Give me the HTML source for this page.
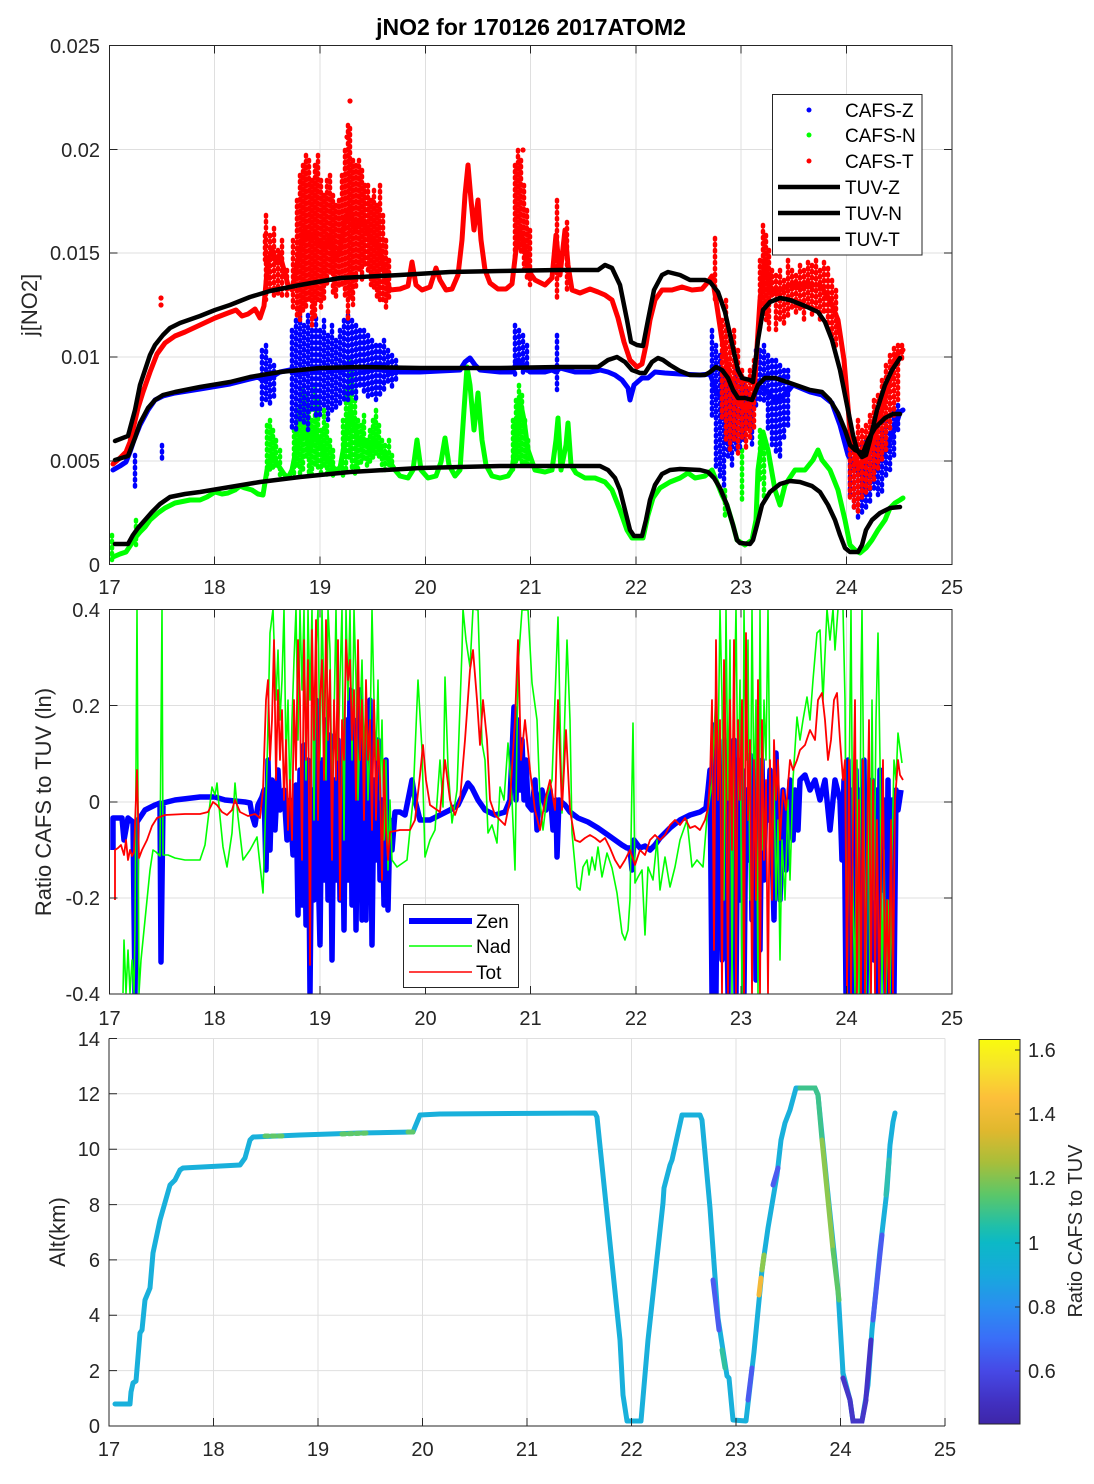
<!DOCTYPE html>
<html><head><meta charset="utf-8"><style>
html,body{margin:0;padding:0;background:#fff;}
svg{display:block;font-family:"Liberation Sans",Arial,sans-serif;}
</style></head><body>
<svg width="1094" height="1484" viewBox="0 0 1094 1484" xmlns="http://www.w3.org/2000/svg">
<defs>
<clipPath id="c1"><rect x="109.5" y="45.5" width="842.5" height="519"/></clipPath>
<clipPath id="c2"><rect x="109.5" y="609.5" width="842.5" height="385"/></clipPath>
<linearGradient id="par" x1="0" y1="0" x2="0" y2="1">
<stop offset="0" stop-color="#f9fb0e"/><stop offset="0.07" stop-color="#f6e42a"/>
<stop offset="0.153" stop-color="#fcbf3a"/><stop offset="0.237" stop-color="#e0b82e"/>
<stop offset="0.32" stop-color="#a8be3a"/><stop offset="0.403" stop-color="#5cc768"/>
<stop offset="0.487" stop-color="#1fbfaa"/><stop offset="0.528" stop-color="#0cb9c6"/>
<stop offset="0.612" stop-color="#17a9dc"/><stop offset="0.695" stop-color="#2a8ef0"/>
<stop offset="0.778" stop-color="#3a6ef8"/><stop offset="0.862" stop-color="#4649e6"/>
<stop offset="0.945" stop-color="#4130c0"/><stop offset="1" stop-color="#3e26a8"/>
</linearGradient>
</defs>
<rect width="1094" height="1484" fill="#fff"/>

<!-- ================= PANEL 1 ================= -->
<g stroke="#dfdfdf" stroke-width="1" fill="none">
<path d="M214.5 45.5V564.5M320 45.5V564.5M425.5 45.5V564.5M530.5 45.5V564.5M636 45.5V564.5M741 45.5V564.5M846.5 45.5V564.5"/>
<path d="M109.5 149.5H952M109.5 253H952M109.5 357H952M109.5 461H952"/>
</g>
<g clip-path="url(#c1)" fill="none" stroke-linecap="round" stroke-linejoin="round">
<!-- green CAFS-N -->
<polyline stroke="#00ff00" stroke-width="5" points="113,557 120,554 126,552 130,546 135,538 140,532 145,527 150,520 158,513 165,508 175,503 190,500 200,500 207,497 215,492 222,494 228,493 235,490 240,486 245,488 252,490 258,494 263,495 267,470 272,455 278,465 284,474 288,478 292,470 296,450 300,440 305,430 310,450 315,430 320,445 325,455 330,462 335,470 340,468 345,440 350,410 355,430 360,445 365,440 370,450 375,440 380,450 385,455 390,462 395,470 400,476 408,478 413,470 417,440 421,470 428,478 436,476 441,462 445,438 449,465 455,476 460,470 464,410 467,367 470,385 474,430 478,393 482,440 486,465 492,476 500,478 508,476 512,470 516,440 520,400 524,420 528,450 535,470 545,472 552,470 556,440 558,418 561,470 566,445 568,423 571,465 576,473 585,478 595,478 605,482 612,490 620,510 627,530 632,538 643,538 648,515 653,498 660,488 670,482 680,478 688,473 695,478 705,476 712,470 716,480 722,495 727,505 733,525 737,540 745,545 752,540 756,520 758,470 763,432 768,450 775,490 780,505 785,485 795,470 805,470 813,460 818,450 822,460 830,470 838,490 845,520 850,545 855,550 860,553 866,548 872,540 878,530 885,520 890,508 895,503 900,500 903,498"/>
<path stroke="#00ff00" stroke-width="4.5" stroke-dasharray="1.5 4.5" d="M267 425V475M270 420V470M273 430V470M276 440V470M280 450V475M294 430V475M297 410V470M300 400V478M303 390V470M306 395V460M309 405V475M312 420V478M315 385V465M318 400V470M321 430V475M324 410V470M327 425V478M330 440V475M333 450V478M343 420V478M346 390V470M349 360V460M352 370V470M355 400V475M358 420V470M361 425V465M364 415V460M367 440V470M370 430V465M373 420V460M376 410V455M379 425V460M382 440V465M385 445V470M389 440V465M392 455V470M513 420V470M516 400V465M519 385V460M522 395V465M525 420V465M528 440V470M760 430V480M764 435V500M742 450V500M725 490V520M112 535V560M136 520V545"/>
<!-- blue CAFS-Z -->
<polyline stroke="#0000ff" stroke-width="5" points="113,470 120,466 126,462 130,452 134,440 140,425 148,410 155,400 163,396 175,393 200,389 230,384 250,379 258,377 262,380 270,378 280,372 290,370 300,372 320,368 340,370 360,368 380,370 400,372 420,372 440,371 460,370 465,362 470,358 475,365 480,370 500,372 512,372 518,360 524,365 530,372 545,372 552,370 556,372 560,368 575,372 590,372 600,370 608,372 615,375 622,380 628,388 630,400 634,385 642,378 648,378 655,372 665,373 680,374 700,375 710,374 716,390 722,400 730,410 740,415 750,410 758,385 765,390 775,400 785,395 793,385 810,392 822,395 832,403 840,425 848,455 856,470 864,475 872,470 880,460 888,445 896,425 900,412 903,410"/>
<path stroke="#0000ff" stroke-width="4.5" stroke-dasharray="1.5 4.5" d="M262 350V405M266 345V400M270 360V407M274 365V400M292 330V430M296 320V433M300 310V420M304 325V425M308 315V430M312 330V410M316 318V420M320 330V415M324 320V410M328 335V420M332 325V415M336 340V410M340 330V405M344 320V400M348 315V400M352 320V395M356 325V400M360 330V390M364 330V395M368 335V400M372 340V395M376 345V400M380 345V395M384 340V390M388 350V385M392 355V390M396 360V380M515 325V375M519 330V372M523 335V375M527 345V372M557 335V390M712 330V420M716 345V470M720 355V480M724 370V487M728 365V460M732 380V470M736 370V450M740 380V450M744 385V440M748 390V430M752 395V445M756 350V410M760 350V400M764 345V405M768 355V430M772 360V445M776 360V455M780 365V460M784 370V440M788 370V430M850 440V500M854 440V510M858 450V520M862 445V515M866 440V510M870 440V505M874 445V490M878 440V495M882 430V495M886 420V480M890 415V470M894 412V460M898 405V430M135 455V490M162 445V460"/>
<!-- red CAFS-T -->
<polyline stroke="#ff0000" stroke-width="5" points="113,464 120,458 126,452 130,442 134,425 138,408 143,392 150,372 157,354 165,343 175,336 185,332 200,325 215,318 228,313 236,310 242,316 248,314 255,309 260,318 264,306 268,260 272,250 276,262 280,255 284,270 288,285 292,290 296,270 300,250 305,230 310,240 315,235 320,245 325,250 330,235 335,260 340,250 345,220 350,210 355,230 360,220 365,225 370,240 375,245 380,250 385,275 390,290 400,289 408,286 412,262 416,285 422,290 430,287 436,268 440,280 446,290 452,289 458,275 462,240 465,195 468,165 471,200 474,230 478,200 481,240 485,270 490,283 498,289 506,289 512,284 516,250 520,230 524,245 528,270 535,280 545,285 552,278 556,235 560,275 565,230 568,265 572,290 580,293 590,289 598,292 605,295 612,300 618,318 624,342 630,360 637,367 642,364 646,345 650,320 655,300 662,290 672,290 682,287 692,290 702,289 708,282 712,276 716,300 722,340 730,380 738,400 746,410 754,395 760,300 765,260 770,290 780,290 790,285 800,285 810,285 820,285 830,300 838,320 844,360 850,430 858,465 866,460 874,440 882,410 890,380 896,355 903,350"/>
<path stroke="#ff0000" stroke-width="4.5" stroke-dasharray="1.5 4.5" d="M266 215V300M270 235V295M274 228V300M278 250V295M282 240V300M287 270V300M293 240V310M297 200V320M300 175V320M303 165V315M306 155V310M309 160V300M312 180V330M315 165V320M318 155V300M321 180V310M324 195V300M327 180V285M330 175V275M333 195V295M336 205V300M339 200V290M342 175V285M345 150V300M348 125V320M350 128V300M353 160V305M356 165V290M359 160V270M362 170V280M365 185V265M368 185V275M371 200V285M374 190V290M377 205V300M380 185V300M383 215V300M386 240V310M389 260V300M515 165V260M518 150V250M521 160V255M524 185V270M527 210V280M530 230V285M557 200V300M567 222V290M715 238V300M722 320V420M726 300V440M730 340V450M734 330V440M738 350V455M742 370V440M746 380V450M750 370V440M754 360V430M760 260V330M763 225V310M766 235V320M769 250V330M772 270V300M776 275V330M780 270V320M784 280V325M788 260V320M792 270V310M796 275V315M800 265V310M804 270V320M808 262V310M812 265V315M816 260V310M820 270V320M824 262V315M828 268V330M832 280V340M836 290V350M850 430V500M854 440V510M858 420V513M862 430V500M866 425V495M870 415V490M874 400V480M878 395V470M882 380V460M886 365V450M890 355V430M894 348V420M898 345V400M902 345V360M265 235V260"/>
<circle cx="350" cy="101" r="2.6" fill="#ff0000" stroke="none"/>
<circle cx="347" cy="137" r="2.6" fill="#ff0000" stroke="none"/>
<circle cx="161" cy="298" r="2.6" fill="#ff0000" stroke="none"/>
<circle cx="161" cy="305" r="2.6" fill="#ff0000" stroke="none"/>
<circle cx="523" cy="150" r="2.6" fill="#ff0000" stroke="none"/>
<!-- TUV black lines -->
<g stroke="#000" stroke-width="4.5">
<polyline points="115,441 128,436 135,410 140,385 145,370 150,355 155,345 163,335 170,328 180,323 200,316 215,310 230,305 250,297 270,291 300,285 340,278 400,275 450,272 500,271 560,270 598,270 605,265 612,268 620,285 627,320 631,342 637,345 643,346 648,320 654,290 662,275 668,272 680,275 690,280 705,280 710,282 718,292 725,312 733,348 738,370 742,378 750,380 753,382 758,340 763,310 770,302 780,298 790,300 805,306 818,312 825,322 832,340 840,370 848,410 853,435 857,450 862,457 866,455 870,440 877,410 885,385 892,370 900,358"/>
<polyline points="115,460 128,456 135,438 140,423 148,408 155,400 163,395 175,392 200,387 230,382 250,377 280,372 320,368 360,367 420,368 500,368 560,367 598,367 608,360 617,357 625,362 632,370 640,373 645,373 652,362 658,358 663,360 670,365 680,371 690,375 705,375 710,372 716,367 722,370 728,378 733,390 738,398 745,398 752,400 758,385 765,378 775,378 790,383 810,390 822,392 830,400 838,413 845,430 850,445 855,450 860,452 863,453 868,440 875,428 885,418 893,414 900,414"/>
<polyline points="115,544 128,544 133,535 138,528 145,520 152,512 160,504 170,497 185,494 200,492 230,487 260,482 300,477 350,472 420,468 500,466 560,466 600,466 608,470 615,478 620,490 625,510 630,530 634,536 642,536 646,520 650,500 655,485 662,474 670,470 680,469 700,470 708,472 714,478 720,488 727,505 733,525 737,540 740,543 750,544 753,540 757,525 762,505 770,492 780,484 790,481 800,482 812,486 820,492 828,505 835,520 840,535 845,548 850,552 858,552 862,545 866,530 872,520 880,513 890,508 900,507"/>
</g>
</g>
<!-- axes box 1 -->
<rect x="109.5" y="45.5" width="842.5" height="519" fill="none" stroke="#262626" stroke-width="1"/>
<g stroke="#262626" stroke-width="1" fill="none">
<path d="M214.5 564.5v-8M320 564.5v-8M425.5 564.5v-8M530.5 564.5v-8M636 564.5v-8M741 564.5v-8M846.5 564.5v-8"/>
<path d="M214.5 45.5v8M320 45.5v8M425.5 45.5v8M530.5 45.5v8M636 45.5v8M741 45.5v8M846.5 45.5v8"/>
<path d="M109.5 149.5h8M109.5 253h8M109.5 357h8M109.5 461h8M952 149.5h-8M952 253h-8M952 357h-8M952 461h-8"/>
</g>
<g fill="#262626" font-size="20" text-anchor="end">
<text x="100" y="53">0.025</text><text x="100" y="157">0.02</text><text x="100" y="260">0.015</text>
<text x="100" y="364">0.01</text><text x="100" y="468">0.005</text><text x="100" y="572">0</text>
</g>
<g fill="#262626" font-size="20" text-anchor="middle">
<text x="109.5" y="594">17</text><text x="214.5" y="594">18</text><text x="320" y="594">19</text><text x="425.5" y="594">20</text>
<text x="530.5" y="594">21</text><text x="636" y="594">22</text><text x="741" y="594">23</text><text x="846.5" y="594">24</text><text x="952" y="594">25</text>
</g>
<text x="531" y="35" font-size="23" font-weight="bold" text-anchor="middle" fill="#000">jNO2 for 170126 2017ATOM2</text>
<text transform="translate(37,305) rotate(-90)" font-size="22" text-anchor="middle" fill="#262626">j[NO2]</text>
<!-- legend 1 -->
<rect x="772.5" y="94.5" width="149.5" height="160.5" fill="#fff" stroke="#262626" stroke-width="1"/>
<circle cx="809" cy="110" r="2.5" fill="#0000ff"/>
<circle cx="809" cy="135" r="2.5" fill="#00ff00"/>
<circle cx="809" cy="161" r="2.5" fill="#ff0000"/>
<g stroke="#000" stroke-width="4.5" fill="none"><path d="M778 187H840M778 213H840M778 239H840"/></g>
<g font-size="19" fill="#000">
<text x="845" y="117">CAFS-Z</text><text x="845" y="142">CAFS-N</text><text x="845" y="168">CAFS-T</text>
<text x="845" y="194">TUV-Z</text><text x="845" y="220">TUV-N</text><text x="845" y="246">TUV-T</text>
</g>

<!-- ================= PANEL 2 ================= -->
<g stroke="#dfdfdf" stroke-width="1" fill="none">
<path d="M214.5 609.5V994M320 609.5V994M425.5 609.5V994M530.5 609.5V994M636 609.5V994M741 609.5V994M846.5 609.5V994"/>
<path d="M109.5 705.5H952M109.5 802H952M109.5 898H952"/>
</g>
<g clip-path="url(#c2)" fill="none" stroke-linejoin="round">
<!-- blue Zen -->
<polyline stroke="#0000ff" stroke-width="5.5" points="113,850 113,818 122,818 124,840 128,818 133,822 135,993 137,822 145,810 155,805 160,803 161,962 163,803 175,800 200,797 215,797 225,800 245,802 250,803 252,815 255,825 258,805 262,797 264,790 266,870 268,760 270,850 272,780 275,830 278,770 280,810 284,790 287,840 290,800 293,855 296,785 298,915 300,770 302,905 304,745 306,925 308,760 310,993 312,790 314,900 316,700 318,860 320,945 322,760 324,880 326,720 328,900 330,735 332,960 334,780 336,880 338,740 340,900 342,760 344,930 346,720 348,880 350,690 352,905 354,720 356,930 358,760 360,690 362,920 364,730 366,920 368,740 370,700 372,945 374,780 376,860 378,740 380,880 382,800 384,905 386,760 388,910 390,820 392,850 395,812 400,812 405,815 408,800 412,780 415,800 420,820 430,820 440,815 450,810 458,805 465,790 468,783 472,788 478,800 485,810 495,815 505,812 510,800 514,707 516,800 518,720 520,790 522,740 524,800 526,760 528,805 532,810 535,780 537,830 539,800 542,790 546,810 550,790 553,830 556,800 557,857 559,800 565,805 570,812 578,818 588,822 598,828 608,835 615,840 622,845 627,848 630,848 632,870 634,840 640,848 645,846 650,850 655,845 660,838 670,828 680,820 690,815 700,812 706,808 708,790 710,770 712,993 714,725 716,993 718,760 720,800 722,960 724,740 726,860 728,993 730,780 732,920 734,740 736,993 738,760 740,900 742,770 744,993 746,790 748,860 750,755 752,920 754,760 756,980 758,790 760,950 762,760 764,880 766,790 768,820 770,770 774,920 776,753 780,900 783,790 786,870 790,780 793,840 795,790 798,830 800,780 805,775 810,790 815,780 820,800 825,780 830,830 835,780 840,800 842,860 844,780 846,993 848,760 850,993 852,790 854,993 856,770 858,940 860,790 862,993 864,760 866,993 868,800 870,900 872,780 874,960 876,790 878,993 880,770 882,890 884,800 886,993 888,780 890,993 892,800 894,993 896,790 898,810 901,790"/>
<!-- green Nad -->
<polyline stroke="#00ff00" stroke-width="1.6" points="123,993 124,940 126,993 128,950 130,993 132,960 134,993 135,930 137,609 139,993 141,960 144,930 147,900 150,870 153,850 156,852 160,856 162,609 163,855 168,855 175,858 185,860 200,860 205,845 208,820 212,787 215,795 217,783 220,817 223,847 227,867 232,833 235,783 238,817 243,860 250,850 257,837 263,893 267,767 270,633 273,609 276,700 278,650 280,720 282,680 284,609 286,760 288,700 290,800 292,720 294,660 296,609 298,740 300,609 302,690 304,609 306,780 308,609 310,700 312,609 314,820 316,650 318,609 320,760 322,609 324,700 326,780 328,609 330,650 332,800 334,720 336,609 338,760 340,680 342,609 344,840 346,609 348,700 350,609 352,760 354,609 356,680 358,800 360,720 362,660 364,760 366,690 368,800 370,740 372,609 374,700 376,760 378,680 380,800 382,720 384,840 386,760 388,870 390,800 392,860 397,867 407,860 413,800 418,680 422,750 425,857 430,840 435,830 440,760 443,807 445,677 448,767 452,823 457,790 462,650 463,609 466,640 470,667 473,609 478,610 482,743 485,760 488,833 492,825 497,843 500,787 504,800 508,743 512,800 515,870 518,667 522,610 528,610 532,683 537,720 540,800 543,830 547,797 552,780 558,617 562,813 567,640 570,720 572,833 577,887 580,890 583,867 587,860 589,875 592,857 595,870 598,847 602,877 607,853 612,868 617,893 622,933 625,940 628,930 630,900 633,723 635,883 638,877 642,870 645,935 648,867 653,880 657,840 660,890 665,857 670,887 675,867 680,840 687,820 692,867 697,860 703,867 707,817 712,783 716,690 718,760 720,609 722,700 724,900 726,609 728,800 730,640 732,993 734,720 736,609 738,800 740,680 742,993 744,609 746,760 748,640 750,900 752,609 754,800 756,700 758,993 760,609 762,850 764,700 766,760 768,609 770,800 772,860 774,780 776,900 778,820 780,960 782,840 785,900 788,800 790,880 793,780 797,717 800,740 803,720 807,697 810,720 813,680 817,633 820,630 823,700 827,609 830,640 833,609 835,650 838,609 843,609 845,700 847,993 849,800 851,609 853,900 855,993 857,760 859,993 861,680 862,609 864,820 866,993 868,760 870,993 872,700 874,900 876,720 878,633 880,760 882,993 884,850 886,993 888,900 890,993 892,850 894,760 896,780 898,733 902,763"/>
<!-- red Tot -->
<polyline stroke="#ff0000" stroke-width="1.8" points="115,900 115,850 118,848 121,845 124,855 126,840 128,860 130,850 132,856 134,852 137,770 139,858 142,850 147,840 152,826 157,818 165,815 185,814 200,814 208,812 213,802 217,805 222,812 227,815 232,810 235,800 240,812 248,816 255,814 260,818 263,790 266,700 268,680 270,760 272,720 274,640 276,780 278,690 280,760 282,710 284,800 286,740 288,830 290,780 292,840 294,700 296,770 298,640 300,700 302,860 304,640 306,760 308,660 310,965 312,630 314,740 316,620 318,820 320,700 322,660 324,780 326,620 328,740 330,670 332,860 334,700 336,780 338,640 340,900 342,720 344,760 346,640 348,680 350,660 352,740 354,690 356,800 358,640 360,760 362,700 364,820 366,680 368,760 370,720 372,830 374,700 376,820 378,740 380,780 382,880 384,760 386,830 388,860 390,832 400,830 410,830 415,820 420,775 423,745 426,780 430,805 440,812 445,760 450,800 455,815 460,800 465,740 470,670 473,650 477,700 480,745 483,700 487,740 490,800 495,815 505,825 510,800 515,720 518,640 521,760 525,720 530,770 535,810 540,830 545,800 550,780 555,810 558,700 562,810 566,730 570,810 575,840 580,842 585,838 590,835 595,838 600,842 605,838 610,848 615,860 620,868 625,860 630,850 635,865 640,850 645,855 650,840 655,835 660,840 665,835 670,825 675,820 680,825 685,818 690,828 695,826 700,830 705,820 708,808 710,780 712,700 714,950 716,640 718,800 720,720 722,993 724,660 726,760 728,993 730,700 732,850 734,640 736,993 738,720 740,800 742,700 744,993 746,633 748,820 750,740 752,993 754,760 756,900 758,680 760,993 762,720 764,860 766,780 768,993 770,760 772,900 774,740 776,800 778,760 780,840 783,790 786,810 790,760 793,770 797,760 800,750 805,745 810,730 815,740 818,700 822,693 825,720 828,760 831,740 834,700 837,693 840,740 843,780 845,760 847,993 849,760 851,993 853,820 855,700 857,993 859,800 861,993 863,760 865,993 867,850 869,720 871,993 873,780 875,993 877,820 879,993 881,880 883,760 885,993 887,900 889,993 891,820 893,993 895,800 898,760 900,775 903,780"/>
</g>
<rect x="109.5" y="609.5" width="842.5" height="384.5" fill="none" stroke="#262626" stroke-width="1"/>
<g stroke="#262626" stroke-width="1" fill="none">
<path d="M214.5 994v-8M320 994v-8M425.5 994v-8M530.5 994v-8M636 994v-8M741 994v-8M846.5 994v-8"/>
<path d="M214.5 609.5v8M320 609.5v8M425.5 609.5v8M530.5 609.5v8M636 609.5v8M741 609.5v8M846.5 609.5v8"/>
<path d="M109.5 705.5h8M109.5 802h8M109.5 898h8M952 705.5h-8M952 802h-8M952 898h-8"/>
</g>
<g fill="#262626" font-size="20" text-anchor="end">
<text x="100" y="617">0.4</text><text x="100" y="713">0.2</text><text x="100" y="809">0</text>
<text x="100" y="905">-0.2</text><text x="100" y="1001">-0.4</text>
</g>
<g fill="#262626" font-size="20" text-anchor="middle">
<text x="109.5" y="1025">17</text><text x="214.5" y="1025">18</text><text x="320" y="1025">19</text><text x="425.5" y="1025">20</text>
<text x="530.5" y="1025">21</text><text x="636" y="1025">22</text><text x="741" y="1025">23</text><text x="846.5" y="1025">24</text><text x="952" y="1025">25</text>
</g>
<text transform="translate(51,802) rotate(-90)" font-size="22" text-anchor="middle" fill="#262626">Ratio CAFS to TUV (ln)</text>
<!-- legend 2 -->
<rect x="403.5" y="904.5" width="115" height="83" fill="#fff" stroke="#262626" stroke-width="1"/>
<path d="M409 921H472" stroke="#0000ff" stroke-width="6" fill="none"/>
<path d="M409 946H472" stroke="#00ff00" stroke-width="1.6" fill="none"/>
<path d="M409 972H472" stroke="#ff0000" stroke-width="1.6" fill="none"/>
<g font-size="19" fill="#000">
<text x="476" y="928">Zen</text><text x="476" y="953">Nad</text><text x="476" y="979">Tot</text>
</g>

<!-- ================= PANEL 3 ================= -->
<g stroke="#dfdfdf" stroke-width="1" fill="none">
<path d="M213.5 1038.5V1426M318 1038.5V1426M422.5 1038.5V1426M527 1038.5V1426M631.5 1038.5V1426M736 1038.5V1426M840.5 1038.5V1426M945 1038.5V1426"/>
<path d="M109 1370.6H945M109 1315.3H945M109 1259.9H945M109 1204.6H945M109 1149.2H945M109 1093.8H945M109 1038.5H945"/>
</g>
<polyline fill="none" stroke="#19b0db" stroke-width="5" stroke-linejoin="round" stroke-linecap="round" points="115,1404 130,1404 131,1392 133,1383 136,1381 140,1333 142,1330 145,1300 150,1288 153,1253 160,1220 170,1185 175,1180 180,1170 183,1168 240,1165 245,1158 250,1140 253,1137 300,1135 360,1133 413,1132 420,1115 440,1114 595,1113 597,1117 620,1340 623,1395 627,1421 641,1421 648,1340 663,1203 664,1188 670,1165 672,1160 682,1115 700,1115 702,1120 710,1208 718,1318 727,1376 729,1378 733,1420 746,1421 754,1352 762,1270 768,1228 777,1175 781,1140 785,1123 790,1110 796,1088 815,1088 818,1095 827,1185 838,1290 843,1373 850,1400 853,1421 862,1421 868,1385 872,1330 880,1250 887,1190 890,1145 893,1122 895,1113"/>
<g fill="none" stroke-width="5" stroke-linecap="round">
<path d="M713 1280L719 1330" stroke="#4a5cf0"/>
<path d="M722 1350L725 1368" stroke="#2fc1a0"/>
<path d="M773 1185L778 1168" stroke="#4a5cf0"/>
<path d="M759 1295L761 1278" stroke="#f3b93a"/>
<path d="M762 1270L764 1255" stroke="#8cc84f"/>
<path d="M748 1400L752 1368" stroke="#4a5cf0"/>
<path d="M800 1088L815 1088L818 1095L822 1140" stroke="#3ec38c"/>
<path d="M822 1140L833 1250" stroke="#8cc84f"/>
<path d="M833 1250L839 1300" stroke="#5cc768"/>
<path d="M843 1378L850 1400L853 1421L862 1421L866 1400" stroke="#4537c8"/>
<path d="M866 1398L871 1340" stroke="#4233c8"/>
<path d="M873 1320L882 1235" stroke="#4a5cf0"/>
<path d="M886 1195L889 1160" stroke="#2fbfb0"/>
<path d="M265 1136L285 1136M342 1134L368 1133" stroke="#5fc86a" stroke-dasharray="3 4"/>
<path d="M408 1132L413 1132" stroke="#5fc86a"/>
</g>
<g stroke="#262626" stroke-width="1" fill="none">
<path d="M109 1038.5V1426H945"/>
<path d="M213.5 1426v-8M318 1426v-8M422.5 1426v-8M527 1426v-8M631.5 1426v-8M736 1426v-8M840.5 1426v-8M945 1426v-8"/>
<path d="M109 1370.6h8M109 1315.3h8M109 1259.9h8M109 1204.6h8M109 1149.2h8M109 1093.8h8M109 1038.5h8"/>
</g>
<g fill="#262626" font-size="20" text-anchor="end">
<text x="100" y="1433">0</text><text x="100" y="1378">2</text><text x="100" y="1322">4</text><text x="100" y="1267">6</text>
<text x="100" y="1212">8</text><text x="100" y="1156">10</text><text x="100" y="1101">12</text><text x="100" y="1046">14</text>
</g>
<g fill="#262626" font-size="20" text-anchor="middle">
<text x="109" y="1456">17</text><text x="213.5" y="1456">18</text><text x="318" y="1456">19</text><text x="422.5" y="1456">20</text>
<text x="527" y="1456">21</text><text x="631.5" y="1456">22</text><text x="736" y="1456">23</text><text x="840.5" y="1456">24</text><text x="945" y="1456">25</text>
</g>
<text transform="translate(65,1232) rotate(-90)" font-size="22" text-anchor="middle" fill="#262626">Alt(km)</text>
<!-- colorbar -->
<rect x="979" y="1039.5" width="41" height="384.5" fill="url(#par)" stroke="#262626" stroke-width="1"/>
<g stroke="#262626" stroke-width="1" fill="none">
<path d="M1020 1050h-5M1020 1114h-5M1020 1178h-5M1020 1243h-5M1020 1307h-5M1020 1371h-5"/>
</g>
<g fill="#262626" font-size="20">
<text x="1028" y="1057">1.6</text><text x="1028" y="1121">1.4</text><text x="1028" y="1185">1.2</text>
<text x="1028" y="1250">1</text><text x="1028" y="1314">0.8</text><text x="1028" y="1378">0.6</text>
</g>
<text transform="translate(1082,1231) rotate(-90)" font-size="20" text-anchor="middle" fill="#262626">Ratio CAFS to TUV</text>
</svg>
</body></html>
